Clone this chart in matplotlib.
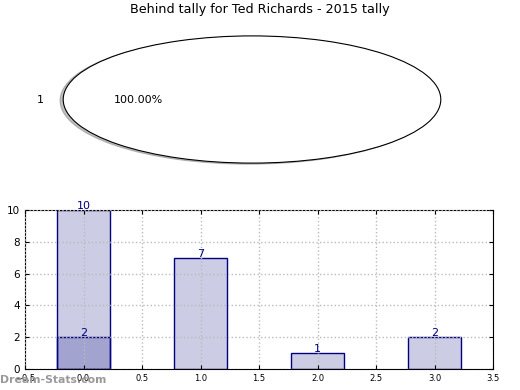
import matplotlib
matplotlib.use("Agg")
import matplotlib.pyplot as plt

title = "Behind tally for Ted Richards - 2015 tally"
pie_labels = ["1"]
pie_values = [1]

bar_x = [0, 1, 2, 3]
bar_vals = [10, 7, 1, 2]
overlay_x = [0]
overlay_vals = [2]

fig = plt.figure(figsize=(5.2, 3.9), dpi=100)

# pie on top
ax1 = fig.add_axes([16 / 520, 1 - 179 / 390, 472 / 520, 159 / 390])
ax1.pie(pie_values, labels=pie_labels, autopct="%1.2f%%",
        shadow={"ox": -0.012, "oy": -0.012, "shade": 0.5},
        colors=["white"], wedgeprops={"edgecolor": "black", "linewidth": 0.8},
        textprops={"fontsize": 8})
ax1.set_aspect("auto")
ax1.set_xlim(-1.25, 1.25)
ax1.set_ylim(-1.25, 1.25)
fig.text(0.5, 1 - 10 / 390, title, ha="center", va="center", fontsize=9.2)

# bars below
ax2 = fig.add_axes([25 / 520, 21 / 390, 468 / 520, 159 / 390])
face = (0, 0, 0.5, 0.2)
ax2.bar(bar_x, bar_vals, width=0.45, color=face, edgecolor="navy", linewidth=1)
ax2.bar(overlay_x, overlay_vals, width=0.45, color=face, edgecolor="navy", linewidth=1)
for x, v in zip(bar_x + overlay_x, bar_vals + overlay_vals):
    ax2.annotate(str(v), (x, v), xytext=(0, 3), textcoords="offset points",
                 ha="center", va="center", color="navy", fontsize=8)

ax2.set_xlim(-0.5, 3.5)
ax2.set_ylim(0, 10)
ax2.set_xticks([-0.5, 0, 0.5, 1, 1.5, 2, 2.5, 3, 3.5])
ax2.set_yticks([0, 2, 4, 6, 8, 10])
ax2.tick_params(direction="in", top=True, right=True, labelsize=6, length=3)
ax2.tick_params(axis="y", labelsize=7.5)
ax2.grid(True, color="#bbbbbb", linestyle=":", linewidth=1)
ax2.set_axisbelow(False)

fig.text(0.0, 1 - 380 / 390, "Dream-Stats.com", fontsize=7.8, fontweight="bold",
         color="#999999", ha="left", va="center")

fig.savefig("out.png", dpi=100)
